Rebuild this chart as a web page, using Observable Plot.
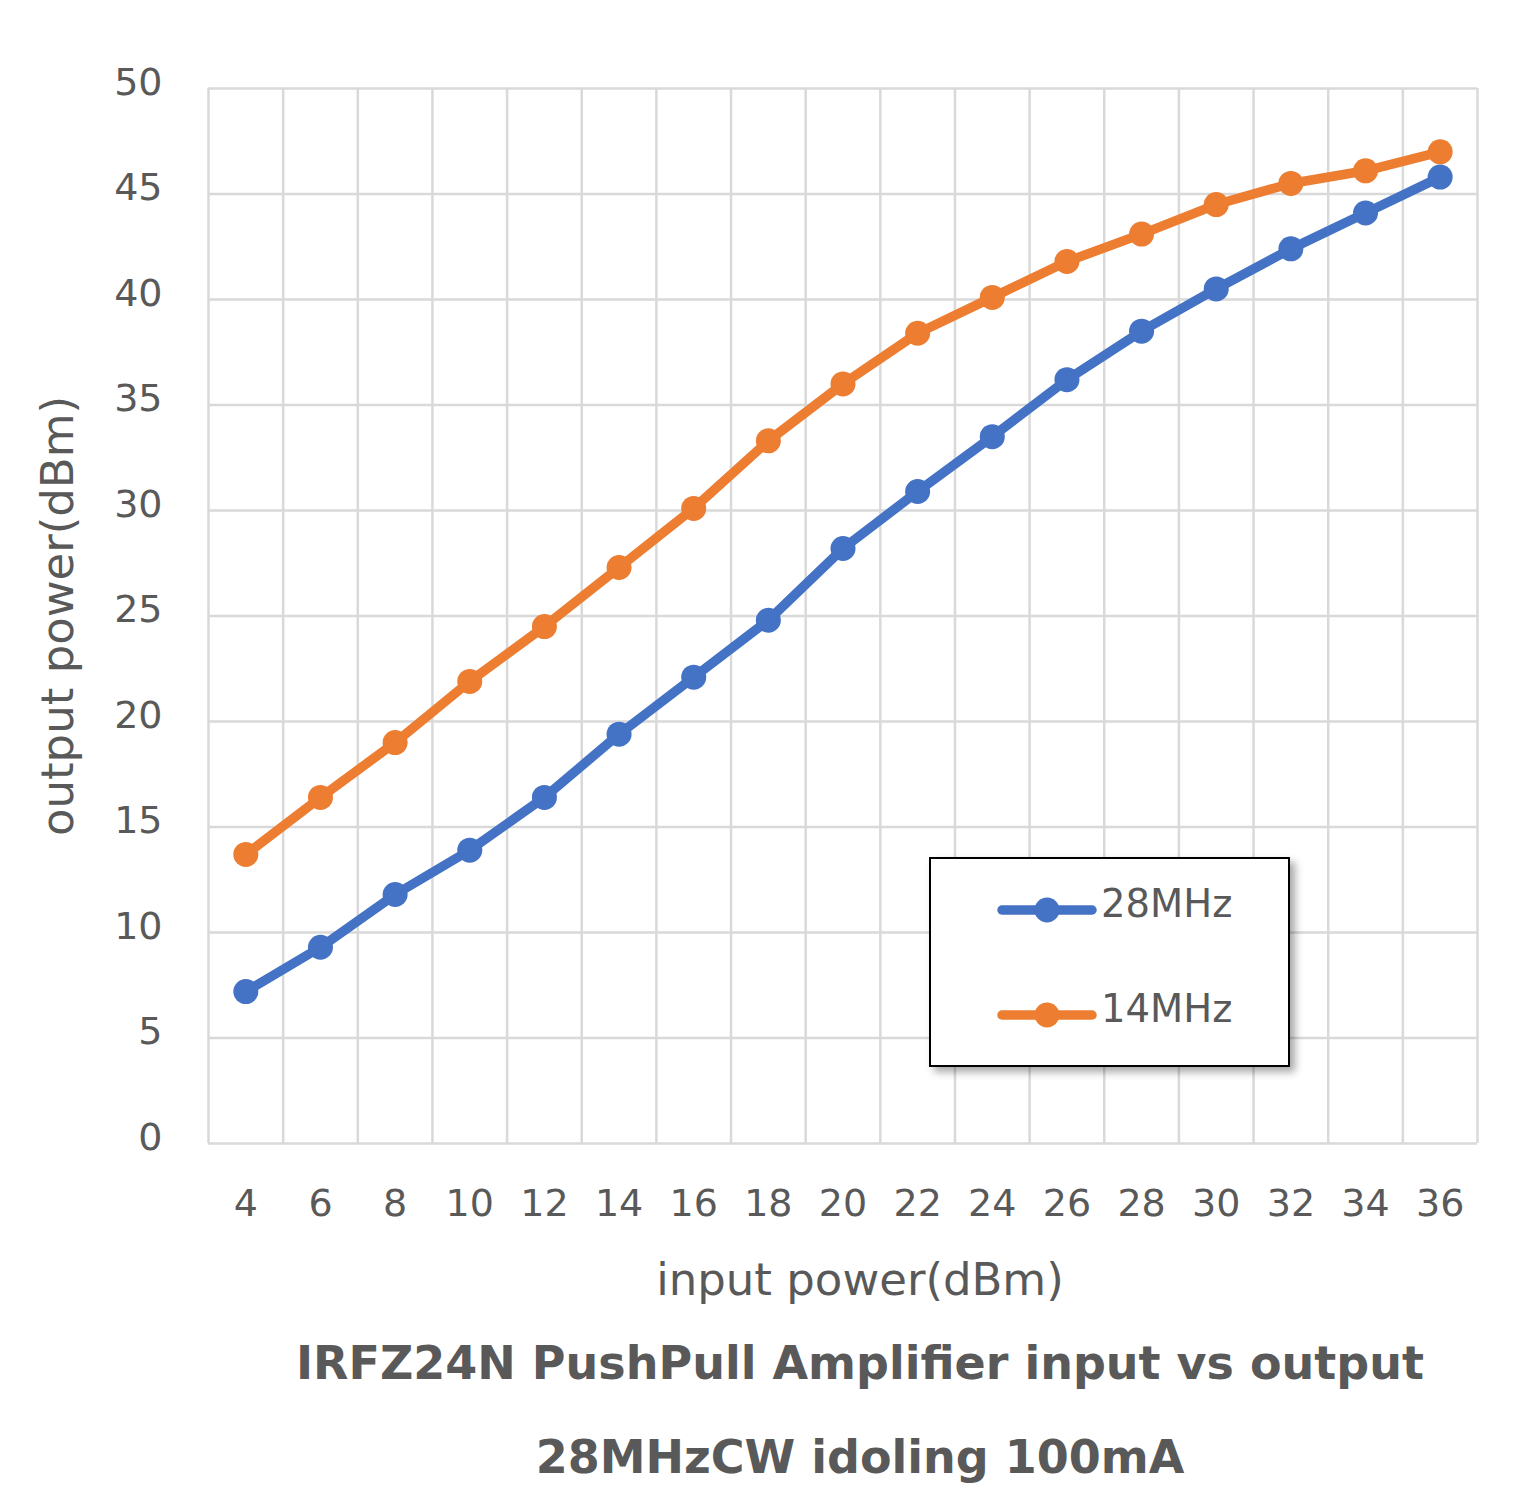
<!DOCTYPE html>
<html><head><meta charset="utf-8">
<script src="https://cdn.jsdelivr.net/npm/d3@7"></script>
<script src="https://cdn.jsdelivr.net/npm/@observablehq/plot@0.6"></script>
<style>
body{margin:0;background:#fff;}
#wrap{position:relative;width:1524px;}
#legend{position:absolute;left:929px;top:857px;width:357px;height:206px;border:2.5px solid #000;background:#fff;box-shadow:5px 5px 8px rgba(0,0,0,0.35);}
.item{position:absolute;left:66px;height:40px;display:flex;align-items:center;font:38.5px "DejaVu Sans";color:#595959;white-space:nowrap;}
.item span{position:relative;top:-6px;margin-left:4px;}
#title{font:bold 46px "DejaVu Sans";color:#595959;text-align:center;padding-left:196px;box-sizing:border-box;width:1524px;line-height:94px;}
</style>
</head><body>
<div id="wrap"></div>
<script>
const xCats = [4,6,8,10,12,14,16,18,20,22,24,26,28,30,32,34,36];
const out28 = [7.2,9.3,11.8,13.9,16.4,19.4,22.1,24.8,28.2,30.9,33.5,36.2,38.5,40.5,42.4,44.1,45.8];
const out14 = [13.7,16.4,19.0,21.9,24.5,27.3,30.1,33.3,36.0,38.4,40.1,41.8,43.1,44.5,45.5,46.1,47.0];
const seriesNames = ["28MHz","14MHz"];
const seriesColors = ["#4472C4","#ED7D31"];
const yTicks = [0,5,10,15,20,25,30,35,40,45,50];
const xLabel = "input power(dBm)";
const yLabel = "output power(dBm)";
const titleLines = ["IRFZ24N PushPull Amplifier input vs output","28MHzCW idoling 100mA"];

const seriesValues = [out28, out14];
const rows = seriesNames.flatMap((name,i)=>xCats.map((x,j)=>({x, y: seriesValues[i][j], series: name})));
const xBounds = xCats.map(d=>d-1).concat([xCats[xCats.length-1]+1]);
const drawOrder = [1,0];

const seriesMarks = drawOrder.flatMap(i => {
  const d = rows.filter(r => r.series === seriesNames[i]);
  return [
    Plot.line(d, {x:"x", y:"y", stroke:"series", strokeWidth:9.5, strokeLinejoin:"round", strokeLinecap:"round"}),
    Plot.dot(d, {x:"x", y:"y", fill:"series", r:12.5, stroke:"none"})
  ];
});

const chart = Plot.plot({
  width:1524, height:1316, marginLeft:208, marginRight:47, marginTop:88, marginBottom:173,
  style:{fontFamily:"DejaVu Sans", color:"#595959", background:"#fff", overflow:"visible"},
  x:{type:"linear", domain:[xBounds[0], xBounds[xBounds.length-1]]},
  y:{domain:[yTicks[0], yTicks[yTicks.length-1]]},
  color:{domain:seriesNames, range:seriesColors},
  marks:[
    Plot.ruleX(xBounds, {stroke:"#d9d9d9", strokeWidth:2.5}),
    Plot.ruleY(yTicks, {stroke:"#d9d9d9", strokeWidth:2.5}),
    Plot.axisX(xCats, {tickSize:0, tickPadding:46, fontSize:38, label:null}),
    Plot.axisY(yTicks, {tickSize:0, tickPadding:46, fontSize:38, label:null, dy:-6}),
    Plot.text([xLabel], {text:d=>d, frameAnchor:"bottom", lineAnchor:"middle", dy:137, dx:17, fontSize:45}),
    Plot.text([yLabel], {text:d=>d, frameAnchor:"left", textAnchor:"middle", lineAnchor:"middle", rotate:-90, dx:-150, fontSize:45}),
    ...seriesMarks
  ]
});
const wrap = document.getElementById("wrap");
wrap.appendChild(chart);

// legend
const legend = document.createElement("div");
legend.id = "legend";
const rowTops = [30.5, 135.5];
seriesNames.forEach((name,i)=>{
  const it = document.createElement("div");
  it.className = "item";
  it.style.top = rowTops[i] + "px";
  const col = seriesColors[i];
  it.innerHTML = `<svg width="100" height="40"><line x1="5" y1="20" x2="95" y2="20" stroke="${col}" stroke-width="9.5" stroke-linecap="round"/><circle cx="50" cy="20" r="12.5" fill="${col}"/></svg><span>${name}</span>`;
  legend.appendChild(it);
});
wrap.appendChild(legend);

const title = document.createElement("div");
title.id = "title";
title.innerHTML = titleLines.map(t=>`<div>${t}</div>`).join("");
document.body.appendChild(title);
</script>
</body></html>
